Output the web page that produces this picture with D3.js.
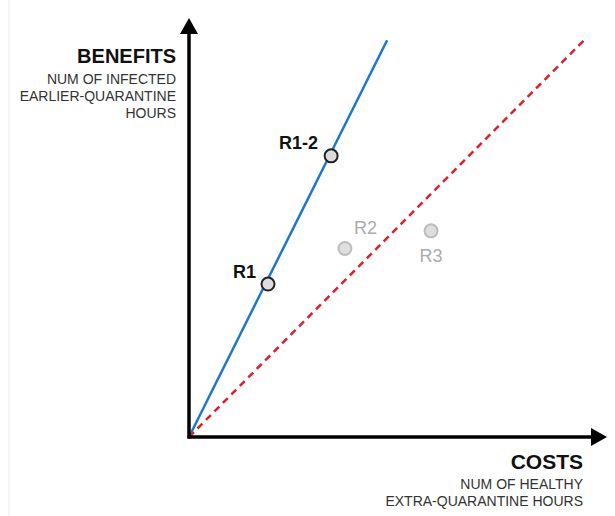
<!DOCTYPE html>
<html>
<head>
<meta charset="utf-8">
<script src="https://cdn.jsdelivr.net/npm/d3@7"></script>
<style>
  html, body { margin: 0; padding: 0; background: #fff; }
  svg { display: block; font-family: "Liberation Sans", Arial, sans-serif; }
</style>
</head>
<body>
<svg id="chart" width="615" height="516"></svg>
<script>
// ---- data ----
const pointNames = ["R1", "R1-2", "R2", "R3"];
const pointCosts = [18.9, 34.0, 37.3, 57.9];
const pointBenefits = [36.5, 67.1, 45.0, 49.2];
const pointHighlighted = [true, true, false, false];

const lineNames = ["blue", "red"];
const lineEndCosts = [47.4, 94.5];
const lineEndBenefits = [94.7, 94.7];

const yTitle = "BENEFITS";
const yCaption = ["NUM OF INFECTED", "EARLIER-QUARANTINE", "HOURS"];
const xTitle = "COSTS";
const xCaption = ["NUM OF HEALTHY", "EXTRA-QUARANTINE HOURS"];

// ---- drawing ----
const svg = d3.select("#chart");
const x = d3.scaleLinear().domain([0, 100]).range([189, 607]);
const y = d3.scaleLinear().domain([0, 100]).range([437, 18]);

// faint left frame line
svg.append("line").attr("x1", 9).attr("x2", 9).attr("y1", 0).attr("y2", 516)
  .attr("stroke", "#ececec").attr("stroke-width", 1);

// reference lines
const lineStyles = {
  blue: { stroke: "#1c76d6", dash: null },
  red: { stroke: "#dc1f2a", dash: "7,5" }
};
lineNames.forEach((n, i) => {
  svg.append("line")
    .attr("x1", x(0)).attr("y1", y(0))
    .attr("x2", x(lineEndCosts[i])).attr("y2", y(lineEndBenefits[i]))
    .attr("stroke", lineStyles[n].stroke)
    .attr("stroke-width", 2.5)
    .attr("stroke-dasharray", lineStyles[n].dash);
});

// axes
const ax = svg.append("g");
ax.append("line").attr("x1", x(0)).attr("y1", y(0) + 1.5).attr("x2", x(0)).attr("y2", y(100) + 12)
  .attr("stroke", "#000").attr("stroke-width", 3.5);
ax.append("line").attr("x1", x(0) - 1.5).attr("y1", y(0)).attr("x2", x(100) - 12).attr("y2", y(0))
  .attr("stroke", "#000").attr("stroke-width", 3.5);
// arrowheads
ax.append("path")
  .attr("d", `M${x(0)},${y(100)} L${x(0) - 9},${y(100) + 16} L${x(0) + 9},${y(100) + 16} Z`)
  .attr("fill", "#000");
ax.append("path")
  .attr("d", `M${x(100)},${y(0)} L${x(100) - 16},${y(0) - 9} L${x(100) - 16},${y(0) + 9} Z`)
  .attr("fill", "#000");

// axis titles
svg.append("text").attr("x", 176).attr("y", 63).attr("text-anchor", "end")
  .attr("font-size", 20).attr("font-weight", "bold").attr("fill", "#111").text(yTitle);
yCaption.forEach((t, i) => {
  svg.append("text").attr("x", 176).attr("y", 84 + i * 17).attr("text-anchor", "end")
    .attr("font-size", 14).attr("fill", "#333").text(t);
});
svg.append("text").attr("x", 583).attr("y", 469).attr("text-anchor", "end")
  .attr("font-size", 21).attr("font-weight", "bold").attr("fill", "#111").text(xTitle);
xCaption.forEach((t, i) => {
  svg.append("text").attr("x", 583).attr("y", 489 + i * 17).attr("text-anchor", "end")
    .attr("font-size", 14).attr("fill", "#333").text(t);
});

// points
const labelOffsets = {
  "R1": { dx: -12, dy: -6, anchor: "end" },
  "R1-2": { dx: -13, dy: -7, anchor: "end" },
  "R2": { dx: 9, dy: -14, anchor: "start" },
  "R3": { dx: 0, dy: 31, anchor: "middle" }
};
pointNames.forEach((n, i) => {
  const cx = x(pointCosts[i]), cy = y(pointBenefits[i]);
  const hi = pointHighlighted[i];
  svg.append("circle").attr("cx", cx).attr("cy", cy).attr("r", 6.5)
    .attr("fill", hi ? "#dcdcdc" : "#dedede")
    .attr("stroke", hi ? "#222" : "#bdbdbd")
    .attr("stroke-width", 2);
  const o = labelOffsets[n];
  svg.append("text").attr("x", cx + o.dx).attr("y", cy + o.dy)
    .attr("text-anchor", o.anchor)
    .attr("font-size", 18)
    .attr("font-weight", hi ? "bold" : "normal")
    .attr("fill", hi ? "#111" : "#acacac")
    .text(n);
});
</script>
</body>
</html>
